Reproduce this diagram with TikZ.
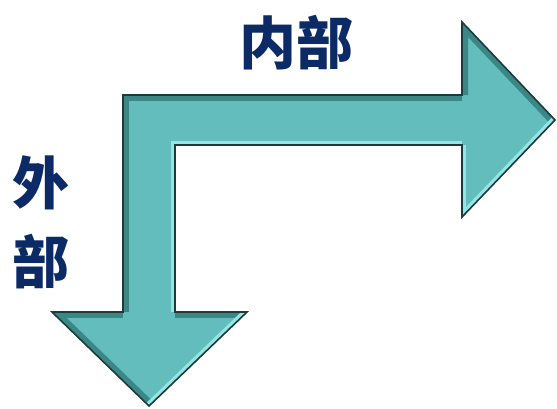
\documentclass[tikz,border=0pt]{standalone}
\usepackage{fontspec}
\newfontfamily\cjk{Noto Sans CJK SC}
\definecolor{navy}{HTML}{0B2A66}
\definecolor{teal1}{HTML}{63BDBC}
\definecolor{tealdark}{HTML}{3A8786}
\definecolor{teallight}{HTML}{93E6E4}
\definecolor{edge}{HTML}{1E3A3A}
\tikzset{
  lbl/.style={text=navy, font=\cjk\bfseries\fontsize{57}{60}\selectfont, inner sep=0pt},
  darkbev/.style={draw=tealdark, line width=12pt},
  lightbev/.style={draw=teallight, line width=8pt},
}
\begin{document}
\begin{tikzpicture}[x=1pt,y=-1pt]
\useasboundingbox (0,0) rectangle (557,408);
\def\arrowpath{(123,95) -- (462,95) -- (462,22) -- (555,120) -- (462,217) -- (462,145) -- (175,145) -- (175,312) -- (247,312) -- (149,406) -- (52,312) -- (123,312) -- cycle}
\fill[teal1] \arrowpath;
\begin{scope}
\clip \arrowpath;
% dark bevels (left / top facing edges)
\draw[darkbev] (123,312) -- (123,95) -- (462,95);
\draw[darkbev] (462,95) -- (462,22) -- (555,120);
\draw[darkbev] (52,312) -- (123,312);
\draw[darkbev] (52,312) -- (149,406);
\draw[darkbev] (175,312) -- (247,312);
% light bevels (bottom / right facing edges)
\draw[lightbev] (175,312) -- (175,145) -- (462,145);
\draw[lightbev] (462,217) -- (555,120);
\draw[lightbev] (149,406) -- (247,312);
\draw[lightbev] (462,145) -- (462,217);
\end{scope}
\draw[edge, line width=1.6pt, line join=miter] \arrowpath;
\node[lbl] (inner) at (296,43) {内部};
\node[lbl] (out1) at (41,183) {外};
\node[lbl] (out2) at (41,262) {部};
\end{tikzpicture}
\end{document}
